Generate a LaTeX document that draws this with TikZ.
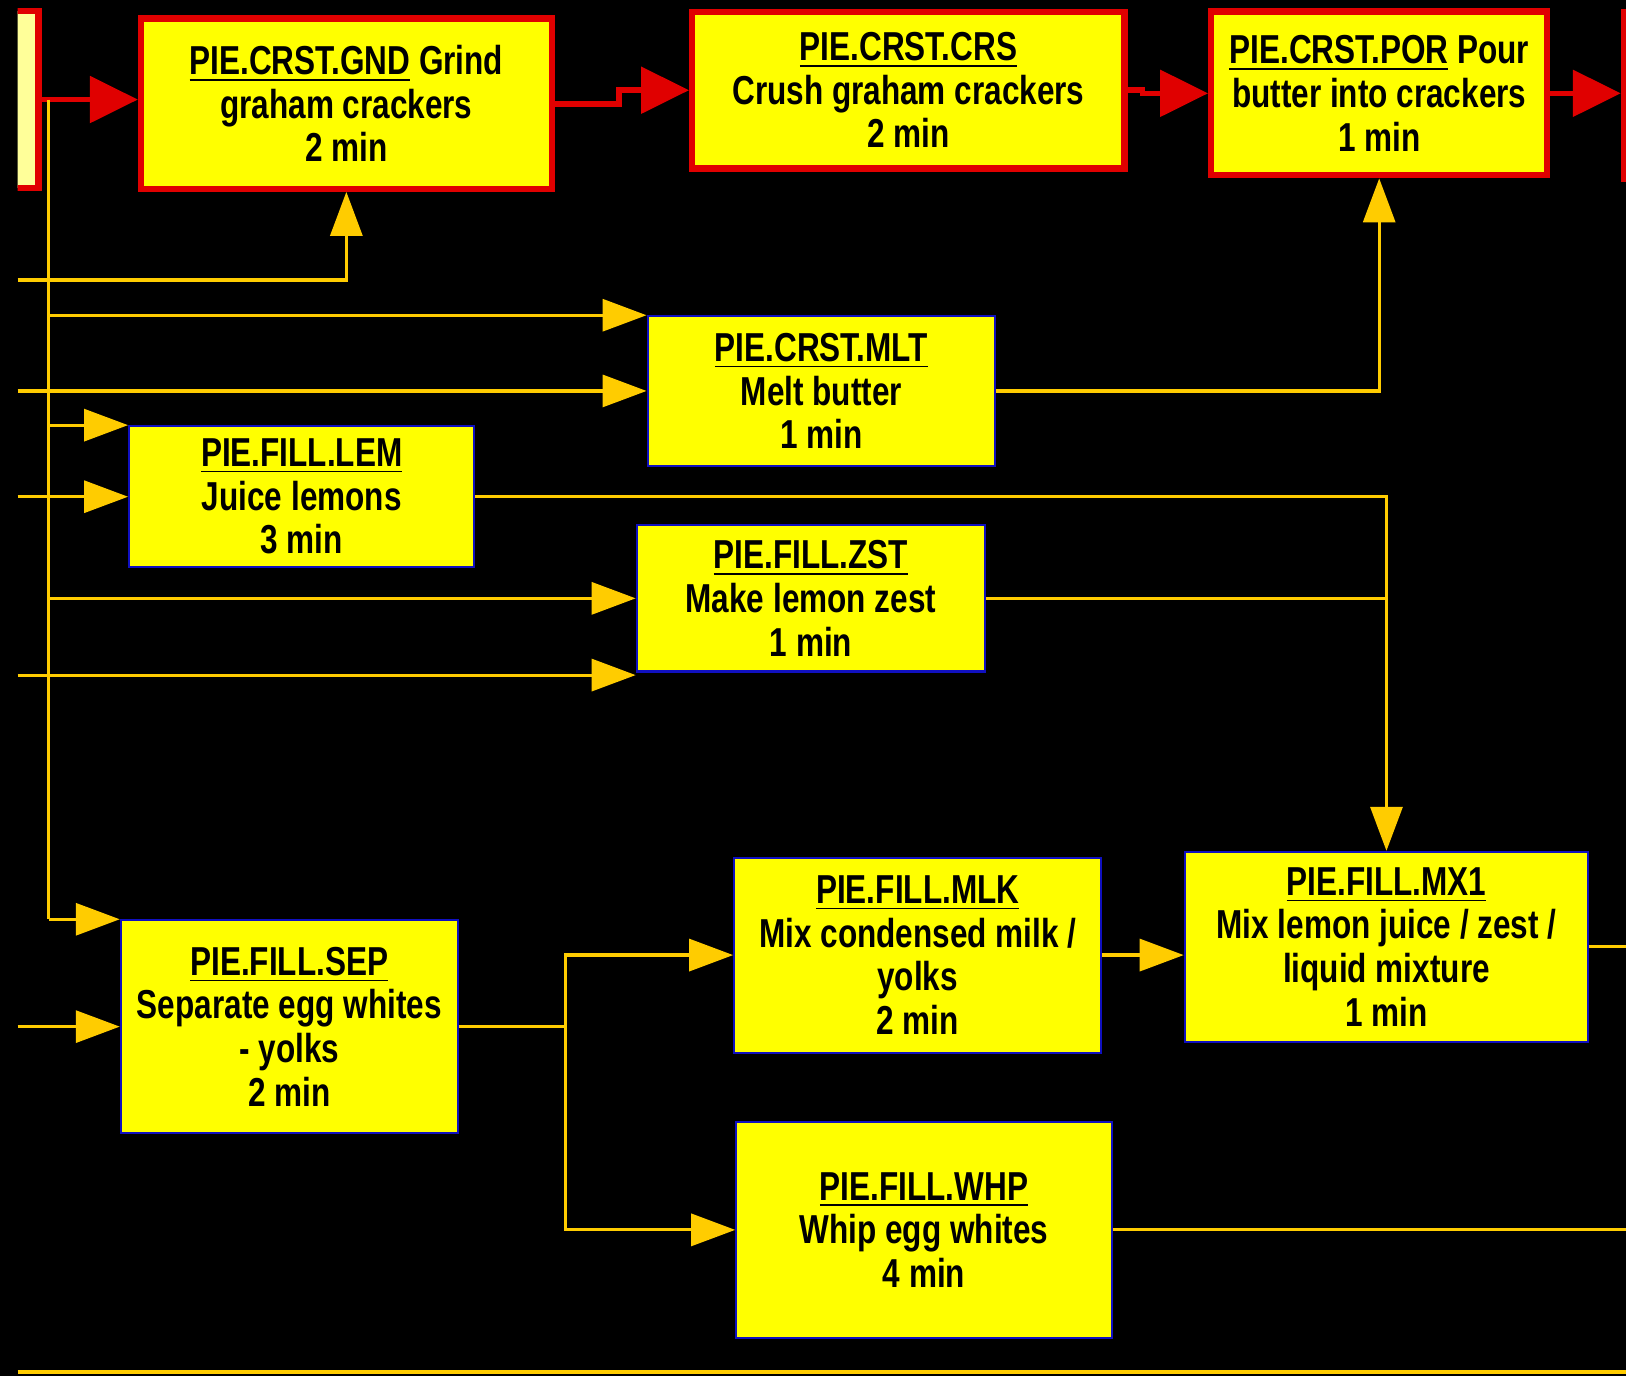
\documentclass[tikz,border=0pt]{standalone}
\usepackage{fontspec}
\setmainfont{Liberation Sans}[FakeStretch=0.78]
\usetikzlibrary{arrows.meta}

\definecolor{taskyellow}{HTML}{FFFF00}
\definecolor{paleyellow}{HTML}{FFFF99}
\definecolor{taskblue}{HTML}{1010C0}
\definecolor{critred}{HTML}{E00000}
\definecolor{flowgold}{HTML}{FFCC00}

\setlength{\unitlength}{0.1037mm}

\tikzset{
  task/.style={draw=taskblue, fill=taskyellow, line width=0.6pt, inner sep=0pt,
    align=center, font=\bfseries\fontsize{11.5}{12.4}\selectfont},
  crit/.style={task, draw=critred, line width=1.8pt},
  feed/.style={flowgold, line width=0.9pt},
  flow/.style={feed, -{Triangle[length=4.4mm,width=3.2mm]}},
  critflow/.style={critred, line width=1.6pt, -{Triangle[length=4.8mm,width=4.6mm]}}
}

\begin{document}
\begin{tikzpicture}[x=\unitlength, y=-\unitlength]
  \fill[black] (0,0) rectangle (1568,1327);
  \clip (17,0) rectangle (1568,1327);

  % crust (critical path)
  \node[crit, fill=paleyellow, minimum width=194\unitlength, minimum height=171\unitlength] (prev) at (-60,96) {};
  \node[crit, minimum width=396\unitlength, minimum height=164\unitlength] (gnd) at (334,100)
    {\underline{PIE.CRST.GND} Grind\\graham crackers\\2 min};
  \node[crit, minimum width=417\unitlength, minimum height=151\unitlength] (crs) at (876,87)
    {\underline{PIE.CRST.CRS}\\Crush graham crackers\\2 min};
  \node[crit, minimum width=324\unitlength, minimum height=158\unitlength] (por) at (1330,90)
    {\underline{PIE.CRST.POR} Pour\\butter into crackers\\1 min};
  \node[crit, minimum width=194\unitlength, minimum height=161\unitlength] (nxt) at (1663,92) {};

  % side tasks
  \node[task, minimum width=335\unitlength, minimum height=144\unitlength] (mlt) at (792,377)
    {\underline{PIE.CRST.MLT}\\Melt butter\\1 min};
  \node[task, minimum width=333\unitlength, minimum height=136\unitlength] (lem) at (291,479)
    {\underline{PIE.FILL.LEM}\\Juice lemons\\3 min};
  \node[task, minimum width=336\unitlength, minimum height=141\unitlength] (zst) at (782,577)
    {\underline{PIE.FILL.ZST}\\Make lemon zest\\1 min};

  % filling
  \node[task, minimum width=325\unitlength, minimum height=205\unitlength] (sep) at (279,990)
    {\underline{PIE.FILL.SEP}\\Separate egg whites\\- yolks\\2 min};
  \node[task, minimum width=354\unitlength, minimum height=188\unitlength] (mlk) at (885,921)
    {\underline{PIE.FILL.MLK}\\Mix condensed milk /\\yolks\\2 min};
  \node[task, minimum width=389\unitlength, minimum height=183\unitlength] (mx1) at (1337,913)
    {\underline{PIE.FILL.MX1}\\Mix lemon juice / zest /\\liquid mixture\\1 min};
  \node[task, minimum width=362\unitlength, minimum height=208\unitlength] (whp) at (891,1186)
    {\underline{PIE.FILL.WHP}\\Whip egg whites\\4 min};

  % free ends at the edges
  \coordinate (bus) at (47,96);
  \coordinate (in1) at (17,270);
  \coordinate (in2) at (17,377);
  \coordinate (in3) at (17,480);
  \coordinate (in4) at (17,651);
  \coordinate (in5) at (17,992);
  \coordinate (split) at (545,992);
  \coordinate (out) at (1568,0);
  \coordinate (bl) at (17,1323);
  \coordinate (br) at (1568,1323);

  % red chain
  \draw[critflow] (prev.east) -- (prev.east -| gnd.west);
  \draw[critflow] (gnd.east) -- ++(62,0) |- (crs.west);
  \draw[critflow] (crs.east) -- ++(14,0) |- (por.west);
  \draw[critflow] (por.east) -- (por.east -| nxt.west);

  % bus from the first task
  \draw[feed] (bus) -- (bus |- sep.north west);
  \draw[flow] (bus |- sep.north west) -- (sep.north west);
  \draw[flow] (bus |- mlt.north west) -- (mlt.north west);
  \draw[flow] (bus |- lem.north west) -- (lem.north west);
  \draw[flow] (bus |- zst.west) -- (zst.west);

  % inputs from the left
  \draw[flow] (in1) -| (gnd.south);
  \draw[flow] (in2) -- (in2 -| mlt.west);
  \draw[flow] (lem.west -| in3) -- (lem.west);
  \draw[flow] (in4) -- (in4 -| zst.west);
  \draw[flow] (sep.west -| in5) -- (sep.west);

  % outputs
  \draw[flow] (mlt.east) -| (por.south);
  \draw[flow] (lem.east) -| (mx1.north);
  \draw[feed] (zst.east) -- (zst.east -| mx1.north);
  \draw[feed] (sep.east) -- (sep.east -| split);
  \draw[flow] (sep.east -| split) |- (mlk.west);
  \draw[flow] (sep.east -| split) |- (whp.west);
  \draw[flow] (mlk.east) -- (mlk.east -| mx1.west);
  \draw[feed] (mx1.east) -- (mx1.east -| out);
  \draw[feed] (whp.east) -- (whp.east -| out);
  \draw[feed] (bl) -- (br);
\end{tikzpicture}
\end{document}
